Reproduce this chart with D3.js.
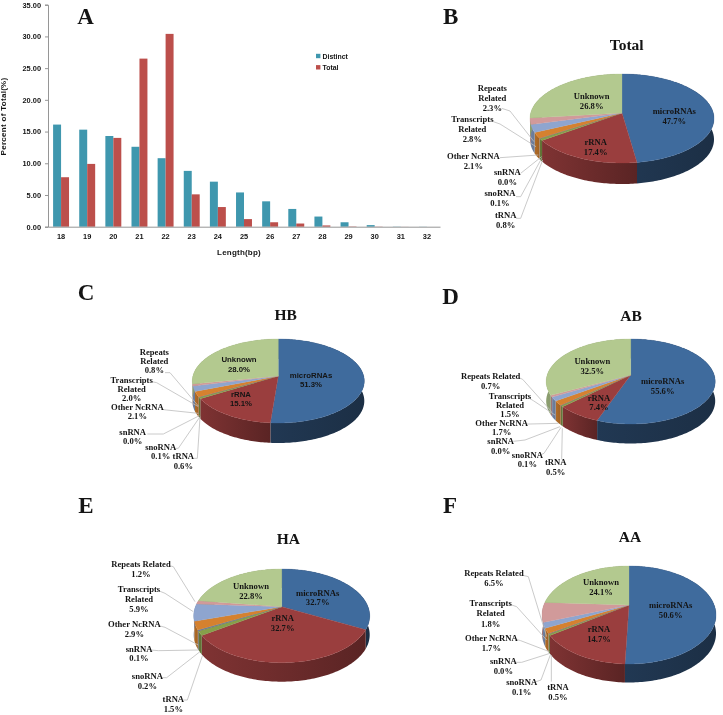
<!DOCTYPE html>
<html><head><meta charset="utf-8">
<script src="https://cdn.jsdelivr.net/npm/d3@7"></script>
<style>
html,body{margin:0;padding:0;background:#fff}
svg{display:block;filter:blur(0.3px)}
text{fill:#141414}
</style></head>
<body><svg id="c" width="723" height="715"></svg>
<script>
// ---- data ----
const lengths = [18,19,20,21,22,23,24,25,26,27,28,29,30,31,32];
const distinct = [16.1,15.3,14.3,12.6,10.8,8.8,7.1,5.4,4.0,2.8,1.6,0.7,0.25,0.03,0.02];
const total = [7.8,9.9,14.0,26.5,30.4,5.1,3.1,1.2,0.7,0.5,0.2,0.05,0.03,0.01,0.0];
const yTicks = [0,5,10,15,20,25,30,35];
const rnaClasses = ["microRNAs","rRNA","tRNA","snoRNA","snRNA","Other NcRNA","Transcripts Related","Repeats Related","Unknown"];
const pctTotal = [47.7,17.4,0.8,0.1,0.0,2.1,2.8,2.3,26.8];
const pctHB = [51.3,15.1,0.6,0.1,0.0,2.1,2.0,0.8,28.0];
const pctAB = [55.6,7.4,0.5,0.1,0.0,1.7,1.5,0.7,32.5];
const pctHA = [32.7,32.7,1.5,0.2,0.1,2.9,5.9,1.2,22.8];
const pctAA = [50.6,14.7,0.5,0.1,0.0,1.7,1.8,6.5,24.1];
const sliceColors = ["#3f6b9d","#9a3e3e","#86a04a","#6d5a94","#3d93a8","#d5812f","#8ea5cf","#d19a9a","#b3c98f"];
const wallDark = [[1.8,2.3],[0.55,1.5],[0.8,1],[0.8,1],[0.8,1],[0.5,0.8],[0.7,0.9],[0.7,0.9],[0.7,0.9]];

// ---- layout (label anchors are [centre x, line y...] measured in 3x crop units from each panel's origin) ----
const panels = [
 {id:"B",title:"Total",values:pctTotal,o:[430,0],letter:[62,50],head:[590,135],sans:false,
  pie:{cx:622,cy:113,rx:92,top:39,bot:50,depth:21},
  lab:[[733,333,363],[497,427,456],[227,645,675],[210,580,608],[232,516,546],[130,467,497],[127,358,388,418],[187,265,295,324],[485,288,318]],
  lead:{2:[[258,655],[272,655],[338,480]],3:[[258,590],[272,590],[335,475]],4:[[272,520],[335,470]],5:[[210,473],[225,472],[325,465]],6:[[190,365],[210,372],[318,440]],7:[[215,325],[240,333],[312,425]]}},
 {id:"C",title:"HB",values:pctHB,o:[60,270],letter:[78,68],head:[677,135],sans:true,
  pie:{cx:278.3,cy:376,rx:86,top:37,bot:47,depth:20},
  lab:[[753,315,343],[543,372,401],[370,558,587],[302,530,558],[218,487,514],[232,411,438],[215,329,357,385],[283,245,273,301],[537,267,297]],
  lead:{2:[[402,565],[412,565],[420,442]],3:[[346,535],[355,535],[420,440]],4:[[262,492],[310,492],[418,437]],5:[[305,418],[320,420],[415,430]],6:[[275,335],[290,338],[415,410]],7:[[315,308],[330,308],[415,408]]}},
 {id:"D",title:"AB",values:pctAB,o:[430,270],letter:[62,78],head:[603,137],sans:false,
  pie:{cx:630.7,cy:375,rx:84.5,top:36,bot:49,depth:19.5},
  lab:[[698,333,362],[507,383,411],[377,577,605],[292,556,583],[212,514,543],[215,460,487],[240,378,405,431],[182,318,347],[487,272,302]],
  lead:{2:[[395,568],[397,475]],3:[[330,555],[342,550],[393,472]],4:[[250,514],[285,510],[390,470]],5:[[288,462],[300,462],[385,460]],6:[[298,385],[310,392],[375,435]],7:[[265,322],[278,328],[365,425]]}},
 {id:"E",title:"HA",values:pctHA,o:[60,490],letter:[78,47],head:[685,147],sans:false,
  pie:{cx:281.7,cy:606.7,rx:88,top:37.7,bot:56,depth:19},
  lab:[[773,308,337],[668,384,413],[340,627,656],[262,559,588],[237,476,505],[223,401,431],[237,298,327,356],[243,222,252],[573,289,318]],
  lead:{2:[[370,630],[382,630],[428,495]],3:[[305,563],[320,563],[420,485]],4:[[272,480],[295,482],[415,480]],5:[[297,407],[315,412],[415,465]],6:[[298,303],[315,310],[400,365]],7:[[328,227],[340,230],[405,335]]}},
 {id:"F",title:"AA",values:pctAA,o:[430,490],letter:[60,47],head:[600,140],sans:false,
  pie:{cx:629,cy:605,rx:87,top:39,bot:59,depth:18.5},
  lab:[[722,345,375],[507,418,448],[384,591,621],[275,576,606],[220,512,542],[184,443,473],[182,340,370,401],[192,250,280],[513,277,307]],
  lead:{2:[[364,575],[364,495]],3:[[318,575],[333,570],[362,492]],4:[[258,517],[275,517],[360,490]],5:[[258,448],[272,452],[358,485]],6:[[245,345],[260,350],[350,450]],7:[[275,255],[295,260],[350,440]]}}
];

const svg = d3.select("#c");
const defs = svg.append("defs");
const serif = "'Liberation Serif',serif", sans = "'Liberation Sans',sans-serif";

// ---- panel A: grouped bars ----
const x0 = d3.scaleBand().domain(lengths).range([48,440]).paddingInner(0.39).paddingOuter(0.195);
const xs = d3.scaleBand().domain(["distinct","total"]).range([0,x0.bandwidth()]);
const y = d3.scaleLinear().domain([0,35]).range([226.7,4.7]);
const gA = svg.append("g").attr("id","panelA");
const barSeries = [{k:"distinct",v:distinct,c:"#3f97ae"},{k:"total",v:total,c:"#bc4f4b"}];
barSeries.forEach(s=>{
  gA.append("g").selectAll("rect").data(s.v).join("rect")
    .attr("x",(d,i)=>x0(lengths[i])+xs(s.k))
    .attr("width",xs.bandwidth())
    .attr("y",d=>y(d))
    .attr("height",d=>y(0)-y(d))
    .attr("fill",s.c);
});
const ax = gA.append("g").attr("transform","translate(0,226.7)")
  .call(d3.axisBottom(x0).tickSize(0).tickPadding(7));
const ay = gA.append("g").attr("transform","translate(48,0)")
  .call(d3.axisLeft(y).tickValues(yTicks).tickFormat(d3.format(".2f")).tickSize(3).tickPadding(4));
[ax,ay].forEach(a=>{
  a.selectAll("path,line").attr("stroke","#8a8a8a").attr("stroke-width",0.9);
  a.selectAll("text").attr("font-family",sans).attr("font-weight","bold").attr("font-size",7.4).attr("fill","#333");
});
gA.append("text").attr("transform","translate(5.5,116.5) rotate(-90)").attr("text-anchor","middle")
  .attr("font-family",sans).attr("font-weight","bold").attr("font-size",8).attr("letter-spacing",0.3).attr("fill","#333").text("Percent of Total(%)");
gA.append("text").attr("x",239).attr("y",255).attr("text-anchor","middle")
  .attr("font-family",sans).attr("font-weight","bold").attr("font-size",8).attr("letter-spacing",0.2).attr("fill","#333").text("Length(bp)");
const legend = gA.append("g");
[["Distinct","#3f97ae",56],["Total","#bc4f4b",67.3]].forEach(([t,c,ly])=>{
  legend.append("rect").attr("x",316).attr("y",ly-2.2).attr("width",4.4).attr("height",4.4).attr("fill",c);
  legend.append("text").attr("x",322.5).attr("y",ly+2.6).attr("font-family",sans).attr("font-weight","bold").attr("font-size",6.9).attr("fill","#333").text(t);
});
gA.append("text").attr("x",85.5).attr("y",24).attr("text-anchor","middle").attr("font-family",serif).attr("font-weight","bold").attr("font-size",23).attr("fill","#111").text("A");

// ---- pie panels: 3D perspective pies ----
const pieGen = d3.pie().sort(null).value(d=>d);
const path = d3.line();
panels.forEach(p=>{
  const g = svg.append("g").attr("id","panel"+p.id);
  const P = p.pie;
  const k = (P.bot-P.top)/(P.bot+P.top);
  const A = 2*P.bot*P.top/(P.bot+P.top);
  const R = P.rx*Math.sqrt(1-k*k);
  const proj = t=>{
    const u=Math.sin(t), v=-Math.cos(t), w=1-k*v;
    return [P.cx+R*u/w, P.cy+A*v/w];
  };
  const arcPts = (a0,a1)=>{
    const n=Math.max(2,Math.ceil((a1-a0)/0.02));
    return d3.range(n+1).map(i=>proj(a0+(a1-a0)*i/n));
  };
  const arcs = pieGen(p.values);
  // side walls
  const walls = g.append("g");
  arcs.forEach((a,i)=>{
    if(a.endAngle-a.startAngle<1e-4) return;
    const top = arcPts(a.startAngle,a.endAngle);
    const low = top.map(([x,y])=>[x,y+P.depth]).reverse();
    const gid = "w"+p.id+i;
    const grad = defs.append("linearGradient").attr("id",gid).attr("x1",0).attr("x2",1).attr("y1",0).attr("y2",0);
    const base = d3.color(sliceColors[i]);
    grad.append("stop").attr("offset",0).attr("stop-color",base.darker(wallDark[i][0]).formatHex());
    grad.append("stop").attr("offset",1).attr("stop-color",base.darker(wallDark[i][1]).formatHex());
    walls.append("path").attr("d",path(top.concat(low))+"Z").attr("fill",`url(#${gid})`);
  });
  // top faces
  const faces = g.append("g");
  arcs.forEach((a,i)=>{
    if(a.endAngle-a.startAngle<1e-4) return;
    const pts=[[P.cx,P.cy]].concat(arcPts(a.startAngle,a.endAngle));
    faces.append("path").attr("d",path(pts)+"Z").attr("fill",sliceColors[i]).attr("stroke",sliceColors[i]).attr("stroke-width",0.3);
  });
  const px = ([x,y])=>[p.o[0]+x/3,p.o[1]+y/3];
  // leader lines
  Object.entries(p.lead).forEach(([i,pts])=>{
    g.append("path").attr("d",path(pts.map(px))).attr("fill","none").attr("stroke","#bdbdbd").attr("stroke-width",0.8);
  });
  // labels
  rnaClasses.forEach((name,i)=>{
    const [lx,...ys]=p.lab[i];
    const words = ys.length===3?name.split(" "):[name];
    const lines = words.concat(p.values[i].toFixed(1)+"%");
    const inside = i<2||i===8;
    const useSans = inside&&p.sans;
    lines.forEach((t,j)=>{
      const [tx,ty]=px([lx,ys[j]]);
      g.append("text").attr("x",tx).attr("y",ty).attr("dy","0.34em").attr("text-anchor","middle")
        .attr("font-family",useSans?sans:serif).attr("font-weight","bold").attr("font-size",useSans?7.8:8.6).text(t);
    });
  });
  // title and panel letter
  const [hx,hy]=px(p.head);
  g.append("text").attr("x",hx).attr("y",hy).attr("dy","0.34em").attr("text-anchor","middle")
    .attr("font-family",serif).attr("font-weight","bold").attr("font-size",15.5).attr("fill","#111").text(p.title);
  const [lx,ly]=px(p.letter);
  g.append("text").attr("x",lx).attr("y",ly).attr("dy","0.34em").attr("text-anchor","middle")
    .attr("font-family",serif).attr("font-weight","bold").attr("font-size",23).attr("fill","#111").text(p.id);
});
</script></body></html>
